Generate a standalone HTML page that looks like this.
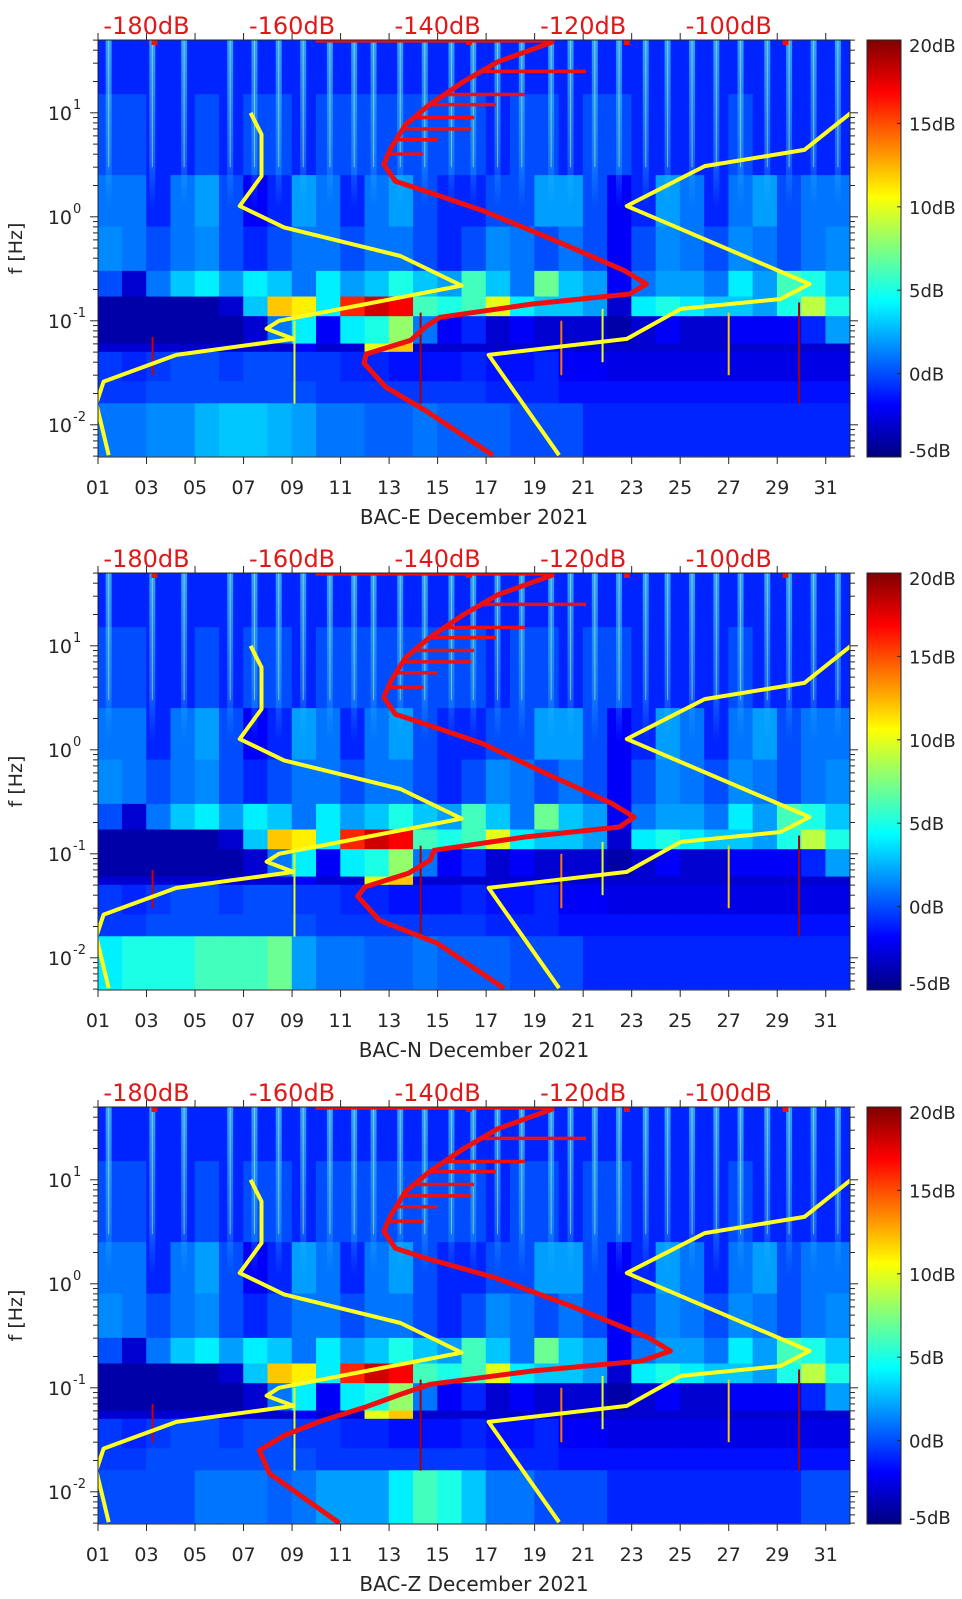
<!DOCTYPE html>
<html><head><meta charset="utf-8">
<style>
html,body{margin:0;padding:0;background:#fff;}
svg{display:block;font-family:"DejaVu Sans","Liberation Sans",sans-serif;}
</style></head>
<body>
<svg id="fig" width="962" height="1599" viewBox="0 0 962 1599" xmlns="http://www.w3.org/2000/svg">
<defs>
<linearGradient id="jet" x1="0" y1="1" x2="0" y2="0">
<stop offset="0" stop-color="#00007f"/><stop offset="0.125" stop-color="#0000ff"/>
<stop offset="0.375" stop-color="#00ffff"/><stop offset="0.625" stop-color="#ffff00"/>
<stop offset="0.875" stop-color="#ff0000"/><stop offset="1" stop-color="#7f0000"/>
</linearGradient>
<linearGradient id="stripeG" x1="0" y1="0" x2="0" y2="1">
<stop offset="0" stop-color="#40d8ff" stop-opacity="0.7"/>
<stop offset="0.7" stop-color="#30c0ff" stop-opacity="0.4"/>
<stop offset="1" stop-color="#30c0ff" stop-opacity="0"/>
</linearGradient>
</defs>
</svg>
<script>
// ---- shared data ----
const panelNames = ["BAC-E December 2021","BAC-N December 2021","BAC-Z December 2021"];
const panelTops = [40, 573, 1107];
const dayTicks = ["01","03","05","07","09","11","13","15","17","19","21","23","25","27","29","31"];
const dbTicks = [-180,-160,-140,-120,-100];
const cbTicks = [20,15,10,5,0,-5];
const freqExps = [-2,-1,0,1];
// heatmap band edges (Hz)
const bandEdges = [50,15,2.5,0.8,0.3,0.17,0.11,0.06,0.05,0.026,0.016,0.005];
const row0 = [-1,-1,-1,-1,-1,-1,-1,-1,-1,-1,-1,-1,-1,-1,-1,-1,-1,-1,-1,-1,-1,-1,-1,-1,-1,-1,-1,-1,-1,-1,-1];
const row1 = [0,0,-1,-1,0,-1,0,0,-1,0,0,0,0,0,0,0,-1,0,0,-1,0,0,-1,-1,-1,-1,0,-1,-1,-1,-1];
const row2 = [1,1,-1,1,2,0,-2,-1,2,1,-1,1,2,0,-1,-1,0,0,2,2,0,-2,-1,2,1,-1,1,2,0,1,1];
const row3 = [1.5,1,0,1,1.5,0,-1,0,1,1,0,1,1,0,-1,0,1.5,1,0,1,0,-2,0,1.5,1,0,1.5,1,0,1,1.5];
const row4 = [0,-3,1,3,4,2,4,3,1,4,2,3,5,3,2,6,3,1,7,3,2,-2,1,2,2,1,4,2,6,5,3];
const row5 = [-4,-4,-4,-4,-4,-3,3,12,11,4,16,18,17,6,5,6,10,4,3,3,2,-3,4,5,4,3,3,2,5,9,5];
const row6 = [-4,-4,-4,-4,-4,-4,-3,1,4,-2,4,5,8,1,-2,-1,-3,-2,-3,-3,-3,-4,-3,-2,-3,-3,-2,-2,-2,-1,2];
const row7 = [-3,-3,-3,-3,-3,-3,-3,-3,-2,-3,-3,10,12,-3,-3,-3,-3,-3,-3,-3,-3,-3,-3,-3,-3,-3,-3,-3,-3,-3,-3];
const row8 = [-0.5,-1,-0.5,0,0,-0.5,0,0,-0.5,-0.5,-1,-1,-1.5,-1.5,-1.5,-1,-1.5,-1.5,-1,-2,-2,-2.5,-2.5,-2.5,-2.5,-2.5,-2.5,-2.5,-2.5,-2.5,-2.5];
const row9 = [-0.5,-0.5,0,0,0,0,0,0,0,-0.5,-0.5,-0.5,-0.5,-0.5,-0.5,-0.5,-1,-1,-1,-1.5,-1.5,-1.5,-1.5,-1.5,-1.5,-1.5,-1.5,-1.5,-1.5,-1.5,-1.5];
const row10E = [1,1,1.5,1.5,2.5,3,3,2.5,2,1,1,0.5,0.5,1,0.5,0.5,0.5,0,0,0,-1,-1,-1,-1,-1,-1,-1,-1,-1,-1,-1];
const row10N = [4,5,5,5,6,6,6,7,2,1,1,0.5,0.5,1,0.5,0.5,0.5,0,0,0,-1,-1,-1,-1,-1,-1,-1,-1,-1,-1,-1];
const row10Z = [0,0,0,0,1,1,1,0.5,1,2,2,2,4,6,5,3,1,1,0,0,0,-1,-1,-1,-1,-1,-1,-1,-1,0,0];
const stripeDays = [1.44,3.24,4.55,6.45,7.45,8.45,9.46,10.56,11.56,12.36,13.46,14.47,15.57,16.47,17.47,18.47,19.68,20.48,21.48,22.48,23.58,24.48,25.49,26.49,27.49,28.59,29.49,30.5,31.5];
// event streaks: day, top f, bottom f, dB value
const eventDays = [3.25,14.3,29.9,9.1,20.1,27.0,21.8];
const eventTopF = [0.07,0.12,0.15,0.1,0.1,0.12,0.13];
const eventBotF = [0.03,0.016,0.016,0.016,0.03,0.03,0.04];
const eventVal = [18,19,19,10,14,12,10];
// yellow noise models (dB, Hz)
const lowModelDb = [-165.7,-164.2,-164.2,-167.2,-161.1,-145.1,-136.7,-161.8,-163.5,-159.8,-175.9,-185.9,-186.9,-185.2];
const lowModelF  = [10,6.2,2.46,1.27,0.79,0.42,0.218,0.10,0.084,0.067,0.047,0.026,0.016,0.0051];
const highModelDb = [-83.2,-89.6,-103.3,-114.0,-88.9,-92.9,-106.6,-114.0,-133.0,-123.3];
const highModelF  = [10,4.4,3.07,1.27,0.226,0.162,0.13,0.067,0.047,0.0051];
// red PSD curves
const redF = [50,50,47.6,31,20,12,7.7,4.6,3.2,2.2,1.77,1.14,0.587,0.303,0.226,0.181,0.145,0.108,0.087,0.065,0.048,0.039,0.023,0.0138,0.0051];
const redDbE = [-156.8,-124.3,-124.3,-131.7,-136.4,-141.1,-144.4,-146.4,-147.4,-145.8,-141.7,-133.7,-123.7,-114.3,-111.3,-113.6,-127.0,-139.7,-141.7,-143.7,-149.8,-150.1,-147.1,-141.7,-132.4];
const redDbN = [-156.8,-124.3,-124.3,-131.7,-136.4,-141.1,-144.4,-146.4,-147.4,-145.8,-141.7,-133.7,-125.0,-116.0,-113.0,-115.0,-128.0,-140.5,-141.0,-144.0,-150.0,-151.0,-148.0,-140.0,-130.9];
const redFZ = [50,50,47.6,31,20,12,7.7,4.6,3.2,2.2,1.77,1.14,0.587,0.303,0.226,0.181,0.145,0.108,0.087,0.065,0.048,0.035,0.025,0.015,0.005];
const redDbZ = [-156.8,-124.3,-124.3,-131.7,-136.4,-141.1,-144.4,-146.4,-147.4,-145.8,-141.7,-132.0,-121.0,-111.0,-108.0,-112.0,-127.0,-141.0,-145.0,-150.0,-156.0,-161.0,-164.5,-163.1,-153.5];
const spurF = [25,15,12,9,7,5.5,4];
const spurEndDb = [-119.6,-128,-132,-135,-135.4,-140,-142];
const markerDb = [-178.9,-135.7,-114.0,-92.2];

const panels = [
 {rows:[row0,row1,row2,row3,row4,row5,row6,row7,row8,row9,row10E], red:redDbE, redF:redF},
 {rows:[row0,row1,row2,row3,row4,row5,row6,row7,row8,row9,row10N], red:redDbN, redF:redF},
 {rows:[row0,row1,row2,row3,row4,row5,row6,row7,row8,row9,row10Z], red:redDbZ, redF:redFZ}
];

const NS="http://www.w3.org/2000/svg";
const svg=document.getElementById('fig');
function mk(tag,attrs,parent){const e=document.createElementNS(NS,tag);for(const k in attrs)e.setAttribute(k,attrs[k]);(parent||svg).appendChild(e);return e;}
function jet(v){let t=(v+5)/25;t=Math.max(0,Math.min(1,t));const c=x=>Math.round(255*Math.max(0,Math.min(1,1.5-Math.abs(4*t-x))));return `rgb(${c(3)},${c(2)},${c(1)})`;}
const L=98,R=850,H=417,dayW=(R-L)/31;
function X(d){return L+(d-1)*dayW;}
function XdB(db){return X(3+(db+180)*0.3);}

panels.forEach((p,pi)=>{
  const top=panelTops[pi];
  const Y=f=>top+(1.70-Math.log10(f))*104;
  const g=mk('g',{});
  
  
  const clipId='clip'+pi;
  const cp=mk('clipPath',{id:clipId},g);mk('rect',{x:L,y:top,width:R-L,height:H},cp);
  const plot=mk('g',{'clip-path':`url(#${clipId})`},g);
  
  
  p.rows.forEach((row,ri)=>{
    const y1=Y(bandEdges[ri]),y2=Y(bandEdges[ri+1]);
    row.forEach((v,di)=>{
      const c=mk('rect',{x:X(di+1)-0.3,y:y1-0.3,width:dayW+0.6,height:y2-y1+0.6,fill:jet(v)},plot);
      
      
    });
  });
  stripeDays.forEach(d=>{
    const s=mk('rect',{x:X(d)-3,y:top,width:6,height:Y(1.2)-top,fill:'url(#stripeG)'},plot);
    
    
    mk('line',{x1:X(d),x2:X(d),y1:top,y2:Y(3),stroke:'#c8f080','stroke-width':1,opacity:0.6},plot);
  });
  eventDays.forEach((d,i)=>{
    const e=mk('line',{x1:X(d),x2:X(d),y1:Y(eventTopF[i]),y2:Y(eventBotF[i]),stroke:jet(eventVal[i]),'stroke-width':2},plot);
    
    
  });
  const pts=(dbs,fs)=>dbs.map((v,i)=>XdB(v).toFixed(1)+','+Y(fs[i]).toFixed(1)).join(' ');
  const lm=mk('polyline',{points:pts(lowModelDb,lowModelF),fill:'none',stroke:'#ffff20','stroke-width':4,'stroke-linejoin':'round'},plot);
  
  
  const hm=mk('polyline',{points:pts(highModelDb,highModelF),fill:'none',stroke:'#ffff20','stroke-width':4,'stroke-linejoin':'round'},plot);
  
  
  const rc=mk('polyline',{points:pts(p.red,p.redF),fill:'none',stroke:'#ee1010','stroke-width':5,'stroke-linejoin':'round'},plot);
  
  
  spurF.forEach((f,i)=>{
    let sdb=p.red[2];
    for(let k=2;k<p.redF.length-1;k++){const a=p.redF[k],b=p.redF[k+1];if(f<=a&&f>=b){const t=(Math.log10(a)-Math.log10(f))/(Math.log10(a)-Math.log10(b));sdb=p.red[k]+t*(p.red[k+1]-p.red[k]);break;}}
    const sp=mk('line',{x1:XdB(sdb),x2:XdB(spurEndDb[i]),y1:Y(f),y2:Y(f),stroke:'#ee1010','stroke-width':3.5},plot);
    
    
  });
  markerDb.forEach(db=>{
    const m=mk('rect',{x:XdB(db)-3,y:top,width:6,height:5,fill:'#ee1010'},plot);
    
    
  });
  mk('rect',{x:L,y:top,width:R-L,height:H,fill:'none',stroke:'#262626','stroke-width':1},g);
  dayTicks.forEach((lab,i)=>{
    const x=X(1+2*i);
    mk('line',{x1:x,x2:x,y1:top+H,y2:top+H+7,stroke:'#262626'},g);
    mk('line',{x1:x,x2:x,y1:top,y2:top-7,stroke:'#262626'},g);
    const t=mk('text',{x:x,y:top+H+37,'text-anchor':'middle','font-size':19,fill:'#262626'},g);
    t.textContent=lab;
    
    
  });
  dbTicks.forEach(v=>{
    const t=mk('text',{x:XdB(v),y:top-6,'text-anchor':'middle','font-size':24,fill:'#e01818'},g);
    t.textContent=v+'dB';
    
    
  });
  for(let e=-3;e<=1;e++){for(let m=1;m<10;m++){const f=m*Math.pow(10,e);if(f<0.005||f>50)continue;const y=Y(f);const len=m===1?8:5;
    mk('line',{x1:L-len,x2:L,y1:y,y2:y,stroke:'#262626'},g);mk('line',{x1:R,x2:R+len,y1:y,y2:y,stroke:'#262626'},g);}}
  freqExps.forEach(e=>{
    const y=Y(Math.pow(10,e));
    const t=mk('text',{x:72,y:y+7,'text-anchor':'end','font-size':19,fill:'#262626'},g);
    t.textContent='10';
    
    
    const s=mk('text',{x:73,y:y-4,'text-anchor':'start','font-size':13,fill:'#262626'},g);
    s.textContent=String(e);
  });
  const yl=mk('text',{x:0,y:0,'text-anchor':'middle','font-size':19,fill:'#262626',transform:`translate(22,${top+H/2}) rotate(-90)`},g);
  yl.textContent='f [Hz]';
  
  
  const xl=mk('text',{x:(L+R)/2,y:top+H+67,'text-anchor':'middle','font-size':20,fill:'#262626'},g);
  xl.textContent=panelNames[pi];
  
  
  const cb=mk('rect',{x:867,y:top,width:34,height:H,fill:'url(#jet)',stroke:'#262626','stroke-width':1},g);
  
  
  cbTicks.forEach(v=>{
    const y=top+H-(v+5)/25*H;
    mk('line',{x1:897,x2:901,y1:y,y2:y,stroke:'#262626'},g);
    const t=mk('text',{x:909,y:y+(v===20?12:v===-5?0:7),'font-size':18,fill:'#262626'},g);
    t.textContent=v+'dB';
    
    
  });
});
</script>
</body></html>
